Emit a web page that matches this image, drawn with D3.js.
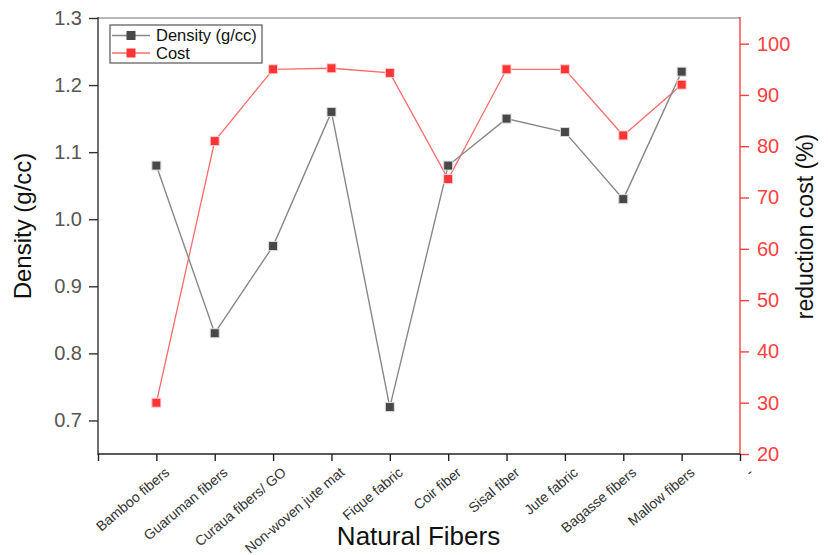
<!DOCTYPE html>
<html>
<head>
<meta charset="utf-8">
<script src="https://cdn.jsdelivr.net/npm/d3@7"></script>
<style>
  body { margin: 0; background: #fff; }
  svg { font-family: "Liberation Sans", Arial, sans-serif; }
</style>
</head>
<body>
<div class="chart"></div>
<script>
// data
const fibers = ["Bamboo fibers", "Guaruman fibers", "Curaua fibers/ GO", "Non-woven jute mat",
  "Fique fabric", "Coir fiber", "Sisal fiber", "Jute fabric", "Bagasse fibers", "Mallow fibers"];
const density = [1.08, 0.83, 0.96, 1.16, 0.72, 1.08, 1.15, 1.13, 1.03, 1.22];
const cost = [30, 81, 95, 95.2, 94.3, 73.6, 95, 95, 82.1, 92];
const xTickLabels = [""].concat(fibers, ["-"]);
const densityTicks = [0.7, 0.8, 0.9, 1.0, 1.1, 1.2, 1.3];
const costTicks = [20, 30, 40, 50, 60, 70, 80, 90, 100];

const width = 828, height = 555;
const plotLeft = 98, plotRight = 740, plotTop = 18, plotBottom = 454;

const svg = d3.select(".chart").append("svg")
  .attr("width", width)
  .attr("height", height);

const x = d3.scaleLinear().domain([0, 11]).range([plotLeft, plotRight]);
const yL = d3.scaleLinear().domain([0.65, 1.3]).range([plotBottom, plotTop]);
const yR = d3.scaleLinear().domain([20, 105]).range([plotBottom, plotTop]);

const red = "#ff4040";

// top border
svg.append("line")
  .attr("x1", plotLeft).attr("x2", plotRight)
  .attr("y1", plotTop).attr("y2", plotTop)
  .attr("stroke", "#a0a0a0").attr("stroke-width", 1.5);

// left axis
const gL = svg.append("g").attr("transform", `translate(${plotLeft},0)`);
gL.call(d3.axisLeft(yL).tickValues(d3.range(0.7, 1.3001, 0.05)).tickSize(5).tickFormat(""));
gL.call(d3.axisLeft(yL).tickValues(densityTicks).tickSize(9).tickPadding(7).tickFormat(d3.format(".1f")));
gL.selectAll("path.domain").remove();
gL.append("line").attr("y1", plotTop - 1).attr("y2", plotBottom + 1).attr("stroke", "#333").attr("stroke-width", 1.6);
gL.selectAll("line").attr("stroke", "#333").attr("stroke-width", 1.4);
gL.selectAll("text").attr("font-size", 20).attr("fill", "#555").attr("font-family", "Liberation Sans");

// right axis
const gR = svg.append("g").attr("transform", `translate(${plotRight},0)`);
gR.call(d3.axisRight(yR).tickValues(d3.range(25, 105, 10)).tickSize(5).tickFormat(""));
gR.call(d3.axisRight(yR).tickValues(costTicks).tickSize(9).tickPadding(8));
gR.selectAll("path.domain").remove();
gR.append("line").attr("y1", plotTop - 1).attr("y2", plotBottom + 1).attr("stroke", red).attr("stroke-width", 1.6);
gR.selectAll("line").attr("stroke", red).attr("stroke-width", 1.4);
gR.selectAll("text").attr("font-size", 20).attr("fill", red).attr("font-family", "Liberation Sans");

// bottom axis
const gB = svg.append("g").attr("transform", `translate(0,${plotBottom})`);
gB.call(d3.axisBottom(x).tickValues(d3.range(0.5, 11, 1)).tickSize(4).tickFormat(""));
gB.call(d3.axisBottom(x).tickValues(d3.range(0, 12)).tickSize(7).tickFormat(""));
gB.selectAll("path.domain").remove();
gB.append("line").attr("x1", plotLeft).attr("x2", plotRight).attr("stroke", "#222").attr("stroke-width", 1.6);
gB.selectAll("line").attr("stroke", "#222").attr("stroke-width", 1.4);

svg.append("g").selectAll("text")
  .data(xTickLabels)
  .enter().append("text")
  .attr("transform", (d, i) => `translate(${x(i) + 14},${plotBottom + 20}) rotate(-40)`)
  .attr("text-anchor", "end")
  .attr("font-size", 14)
  .attr("fill", "#333")
  .text(d => d);

// axis titles
svg.append("text")
  .attr("transform", `translate(31,${(152 + 300) / 2}) rotate(-90)`)
  .attr("text-anchor", "middle")
  .attr("font-size", 24)
  .attr("fill", "#111")
  .text("Density (g/cc)");

svg.append("text")
  .attr("transform", `translate(813,${(133 + 320) / 2}) rotate(-90)`)
  .attr("text-anchor", "middle")
  .attr("font-size", 23)
  .attr("fill", "#111")
  .text("reduction cost (%)");

svg.append("text")
  .attr("x", (335 + 502) / 2)
  .attr("y", 545)
  .attr("text-anchor", "middle")
  .attr("font-size", 26)
  .attr("fill", "#111")
  .text("Natural Fibers");

// series
const lineD = d3.line().x((d, i) => x(i + 1)).y(d => yL(d));
const lineC = d3.line().x((d, i) => x(i + 1)).y(d => yR(d));

svg.append("path")
  .attr("d", lineC(cost))
  .attr("fill", "none")
  .attr("stroke", "#ff6b6b")
  .attr("stroke-width", 1.3);

svg.append("path")
  .attr("d", lineD(density))
  .attr("fill", "none")
  .attr("stroke", "#888")
  .attr("stroke-width", 1.4);

const ms = 9;
svg.append("g").selectAll("rect")
  .data(cost)
  .enter().append("rect")
  .attr("x", (d, i) => x(i + 1) - ms / 2)
  .attr("y", d => yR(d) - ms / 2)
  .attr("width", ms).attr("height", ms)
  .attr("fill", "#ff3535")
  .attr("stroke", "#ffd0d0").attr("stroke-width", 1);

svg.append("g").selectAll("rect")
  .data(density)
  .enter().append("rect")
  .attr("x", (d, i) => x(i + 1) - ms / 2)
  .attr("y", d => yL(d) - ms / 2)
  .attr("width", ms).attr("height", ms)
  .attr("fill", "#484848")
  .attr("stroke", "#dcdcdc").attr("stroke-width", 1);

// legend
const legend = svg.append("g");
legend.append("rect")
  .attr("x", 110).attr("y", 25)
  .attr("width", 152).attr("height", 38)
  .attr("fill", "#fff")
  .attr("stroke", "#555").attr("stroke-width", 1.2);

const legendItems = [
  { name: "Density (g/cc)", line: "#888", fill: "#484848", y: 35.5 },
  { name: "Cost", line: "#ff6b6b", fill: "#ff3535", y: 53 }
];
legendItems.forEach(it => {
  legend.append("line")
    .attr("x1", 112).attr("x2", 150)
    .attr("y1", it.y).attr("y2", it.y)
    .attr("stroke", it.line).attr("stroke-width", 1.3);
  legend.append("rect")
    .attr("x", 131 - ms / 2).attr("y", it.y - ms / 2)
    .attr("width", ms).attr("height", ms)
    .attr("fill", it.fill);
  legend.append("text")
    .attr("x", 156).attr("y", it.y + 5.5)
    .attr("font-size", 16.5)
    .attr("fill", "#111")
    .text(it.name);
});
</script>
</body>
</html>
